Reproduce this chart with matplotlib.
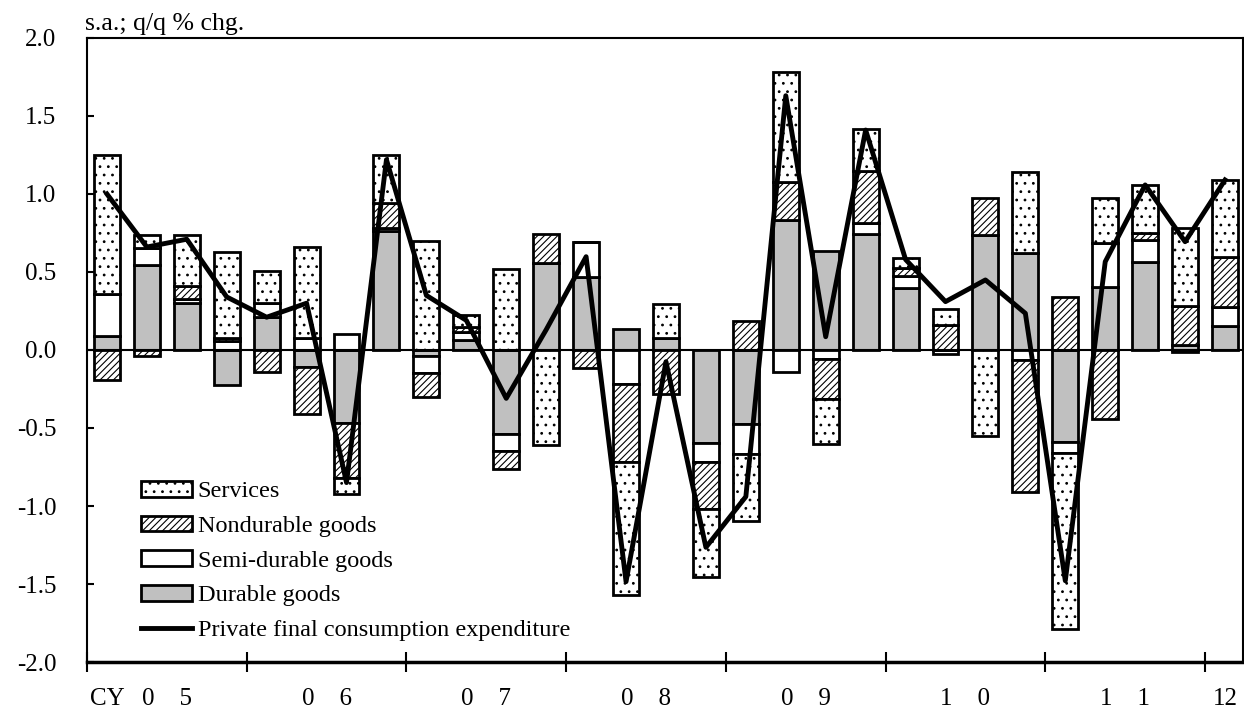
import numpy as np
import matplotlib
matplotlib.use("Agg")
import matplotlib.pyplot as plt

plt.rcParams["font.family"] = ["Liberation Serif", "DejaVu Serif"]
plt.rcParams["axes.unicode_minus"] = False
plt.rcParams["hatch.linewidth"] = 0.8

# quarterly contributions, CY2005Q1 - CY2012Q1
quarters = ["05Q1", "05Q2", "05Q3", "05Q4", "06Q1", "06Q2", "06Q3", "06Q4",
            "07Q1", "07Q2", "07Q3", "07Q4", "08Q1", "08Q2", "08Q3", "08Q4",
            "09Q1", "09Q2", "09Q3", "09Q4", "10Q1", "10Q2", "10Q3", "10Q4",
            "11Q1", "11Q2", "11Q3", "11Q4", "12Q1"]
durable = [0.09, 0.545, 0.30, -0.225, 0.21, -0.11, -0.47, 0.76,
           -0.04, 0.065, -0.54, 0.56, 0.47, 0.135, 0.075, -0.598,
           -0.474, 0.833, 0.637, 0.744, 0.395, 0.0, 0.737, 0.62,
           -0.588, 0.406, 0.566, 0.03, 0.154]
semi_durable = [0.27, 0.11, 0.03, 0.06, 0.09, 0.08, 0.10, 0.025,
                -0.11, 0.05, -0.11, 0.0, 0.225, -0.218, 0.0, -0.118,
                -0.19, -0.139, -0.06, 0.072, 0.079, -0.026, 0.0, -0.064,
                -0.074, 0.278, 0.139, -0.015, 0.12]
nondurable = [-0.19, -0.04, 0.08, 0.015, -0.14, -0.30, -0.35, 0.155,
              -0.15, 0.03, -0.115, 0.185, -0.118, -0.50, -0.282, -0.304,
              0.188, 0.246, -0.256, 0.334, 0.05, 0.16, 0.235, -0.844,
              0.342, -0.444, 0.047, 0.25, 0.32]
services = [0.89, 0.08, 0.33, 0.555, 0.205, 0.58, -0.10, 0.31,
            0.70, 0.08, 0.52, -0.61, 0.0, -0.85, 0.22, -0.433,
            -0.431, 0.706, -0.287, 0.265, 0.064, 0.10, -0.551, 0.523,
            -1.128, 0.288, 0.306, 0.50, 0.496]
pfce = [1.00, 0.66, 0.71, 0.34, 0.21, 0.30, -0.85, 1.22,
        0.35, 0.19, -0.31, 0.13, 0.598, -1.485, -0.075, -1.265,
        -0.94, 1.63, 0.085, 1.41, 0.58, 0.31, 0.449, 0.235,
        -1.479, 0.566, 1.058, 0.694, 1.09]

year_labels = ["CY", "0    5", "0    6", "0    7", "0    8", "0    9", "1    0", "1    1", "12"]

fig = plt.figure(figsize=(12.44, 7.11), dpi=100)
ax = fig.add_axes([0.0699, 0.0689, 0.9293, 0.8777])

x = np.arange(len(quarters))
width = 0.65
pos_base = np.zeros(len(x))
neg_base = np.zeros(len(x))

series = [
    (durable, "Durable goods", dict(facecolor="#c0c0c0")),
    (semi_durable, "Semi-durable goods", dict(facecolor="white")),
    (nondurable, "Nondurable goods", dict(facecolor="white", hatch="/////")),
    (services, "Services", dict(facecolor="white", hatch="..")),
]
handles = {}
for vals, name, style in series:
    v = np.array(vals)
    bottom = np.where(v >= 0, pos_base, neg_base)
    bars = ax.bar(x, v, width, bottom=bottom, edgecolor="black",
                  linewidth=2, label=name, zorder=2, **style)
    handles[name] = bars
    pos_base = pos_base + np.clip(v, 0, None)
    neg_base = neg_base + np.clip(v, None, 0)

line, = ax.plot(x, pfce, color="black", linewidth=3.5, zorder=4,
                label="Private final consumption expenditure")

ax.axhline(0, color="black", linewidth=1.5, zorder=3)

ax.set_xlim(-0.45, 28.45)
ax.set_ylim(-2.0, 2.0)
ax.set_yticks(np.arange(-2.0, 2.01, 0.5))
ax.set_yticklabels([f"{t:.1f}" for t in np.arange(-2.0, 2.01, 0.5)], fontsize=18)
ax.tick_params(axis="y", direction="in", length=5, width=1.5, pad=22)

# year boundaries as ticks, year names as minor labels
ax.set_xticks([-0.5, 3.5, 7.5, 11.5, 15.5, 19.5, 23.5, 27.5])
ax.set_xticklabels([])
ax.tick_params(axis="x", which="major", direction="inout", length=14, width=1.5)
ax.set_xticks([0.0, 1.5, 5.5, 9.5, 13.5, 17.5, 21.5, 25.5, 28.0], minor=True)
ax.set_xticklabels(year_labels, minor=True, fontsize=18)
ax.tick_params(axis="x", which="minor", length=0, pad=19)

for s in ax.spines.values():
    s.set_linewidth(1.5)
ax.spines["bottom"].set_linewidth(2.5)

ax.text(-0.002, 1.005, "s.a.; q/q % chg.", transform=ax.transAxes,
        ha="left", va="bottom", fontsize=18.5)

order = ["Services", "Nondurable goods", "Semi-durable goods", "Durable goods"]
leg = ax.legend([handles[n] for n in order] + [line], order + [line.get_label()],
                loc="lower left", bbox_to_anchor=(0.038, 0.018), frameon=False,
                fontsize=17.5, handlelength=2.1, handleheight=0.6,
                handletextpad=0.25, labelspacing=0.55, borderaxespad=0)

fig.savefig("out.png", dpi=100)
